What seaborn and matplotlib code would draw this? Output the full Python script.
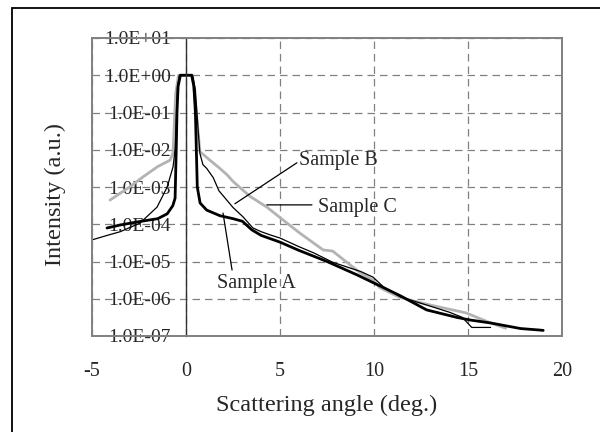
import numpy as np
import pandas as pd
import seaborn as sns
import matplotlib.pyplot as plt
from matplotlib.patches import Rectangle

# --- datos (intensidad en potencias de 10) ---
angle_a = [-4.2, -3.5, -2.5, -1.5, -1.0, -0.7, -0.58, -0.52, -0.48, -0.42, -0.3, 0.0, 0.3,
           0.42, 0.5, 0.55, 0.6, 0.75, 1.1, 1.8, 2.5, 3.0, 3.5, 4.0, 5.0, 6.0, 7.5, 9.1,
           10.5, 11.4, 12.8, 14.4, 15.1, 16.2, 17.8, 18.8, 19.0]
log_a = [-4.1, -4.02, -3.93, -3.85, -3.72, -3.5, -3.3, -2.0, -1.0, -0.3, 0.0, 0.0, 0.0,
         -0.3, -1.0, -2.0, -3.0, -3.43, -3.62, -3.77, -3.85, -3.92, -4.15, -4.3, -4.48,
         -4.7, -5.0, -5.36, -5.7, -5.92, -6.3, -6.5, -6.57, -6.65, -6.8, -6.84, -6.85]

angle_b = [-5.0, -4.2, -3.5, -2.45, -1.54, -1.0, -0.69, -0.58, -0.5, -0.45, -0.35, 0.0, 0.35,
           0.5, 0.65, 0.74, 0.9, 1.1, 1.45, 1.75, 2.5, 3.03, 3.56, 4.0, 4.5, 5.0, 6.0, 6.8,
           7.8, 9.3, 9.95, 10.5, 11.4, 13.0, 14.0, 14.7, 15.2, 16.2]
log_b = [-4.42, -4.3, -4.2, -3.97, -3.54, -3.0, -2.46, -2.0, -1.0, -0.3, 0.0, 0.0, 0.0,
         -0.4, -1.5, -2.1, -2.4, -2.5, -2.75, -3.1, -3.55, -3.8, -4.1, -4.2, -4.29, -4.37,
         -4.6, -4.77, -5.02, -5.27, -5.42, -5.68, -5.95, -6.2, -6.36, -6.5, -6.77, -6.77]

angle_c = [-4.04, -3.0, -2.29, -1.5, -0.85, -0.69, -0.55, -0.4, 0.0, 0.35, 0.55, 0.74, 1.2,
           1.8, 2.2, 2.5, 3.4, 4.3, 5.2, 6.06, 7.3, 7.8, 8.5, 9.26, 9.95, 10.3, 11.4, 13.0,
           14.9, 16.2, 17.0]
log_c = [-3.35, -3.0, -2.73, -2.45, -2.28, -2.09, -0.5, 0.0, 0.0, 0.0, -1.0, -2.05, -2.25,
         -2.5, -2.68, -2.85, -3.25, -3.54, -3.9, -4.24, -4.69, -4.72, -5.0, -5.3, -5.5,
         -5.7, -5.97, -6.17, -6.38, -6.65, -6.79]

y_ticks = [1e-7, 1e-6, 1e-5, 1e-4, 1e-3, 1e-2, 1e-1, 1e0, 1e1]
y_tick_labels = ['1.0E-07', '1.0E-06', '1.0E-05', '1.0E-04', '1.0E-03',
                 '1.0E-02', '1.0E-01', '1.0E+00', '1.0E+01']
x_ticks = [-5, 0, 5, 10, 15, 20]

sns.set_style('white')
plt.rcParams['font.family'] = ['Liberation Serif', 'DejaVu Serif']
plt.rcParams['axes.unicode_minus'] = False

fig = plt.figure(figsize=(6, 4.32), dpi=100)
ax = fig.add_axes([92 / 600, 1 - 336 / 432, 470 / 600, 298 / 432])

# marco exterior del grafico
fig.patches.append(Rectangle((12 / 600, -0.05), 1.2, 1 - 8 / 432 + 0.05,
                             transform=fig.transFigure, fill=False,
                             edgecolor='black', lw=1.3))

df_c = pd.DataFrame({'angle': angle_c, 'intensity': 10.0 ** np.array(log_c)})
df_b = pd.DataFrame({'angle': angle_b, 'intensity': 10.0 ** np.array(log_b)})
df_a = pd.DataFrame({'angle': angle_a, 'intensity': 10.0 ** np.array(log_a)})

sns.lineplot(data=df_c, x='angle', y='intensity', sort=False, color='#b3b3b3', lw=2.0, ax=ax)
sns.lineplot(data=df_b, x='angle', y='intensity', sort=False, color='black', lw=0.9, ax=ax)
sns.lineplot(data=df_a, x='angle', y='intensity', sort=False, color='black', lw=2.0, ax=ax)

ax.set_yscale('log')
ax.set_xlim(-5, 20)
ax.set_ylim(1e-7, 1e1)
ax.set_xticks(x_ticks)
ax.set_yticks(y_ticks)
ax.set_yticklabels(y_tick_labels)
ax.minorticks_off()

ax.grid(True, which='major', ls=(0, (6, 4)), color='#808080', lw=0.9)
ax.set_axisbelow(True)

# eje y en x = 0
ax.spines['left'].set_position(('data', 0))
ax.spines['left'].set_color('#333333')
ax.spines['left'].set_linewidth(1.0)
for side in ['top', 'right', 'bottom']:
    ax.spines[side].set_color('#808080')
    ax.spines[side].set_linewidth(1.4)
ax.axvline(-5, color='#808080', lw=1.4, clip_on=False)

ax.tick_params(axis='y', length=0, pad=11, labelsize=14)
ax.tick_params(axis='x', length=0, pad=19, labelsize=14.5)

ax.set_xlabel('Scattering angle (deg.)', fontsize=17.5, labelpad=10)
ax.set_ylabel('')
fig.text(55 / 600, 1 - 195 / 432, 'Intensity (a.u.)', rotation=90, fontsize=17.5,
         ha='center', va='center')

# etiquetas de las muestras
line_kw = dict(arrowstyle='-', color='black', lw=0.9, shrinkA=0, shrinkB=0)
ax.text(3.72, 10 ** -5.58, 'Sample A', fontsize=14.5, ha='center', va='center')
ax.annotate('', xy=(1.97, 10 ** -3.7), xytext=(2.45, 10 ** -5.23), arrowprops=line_kw)
ax.text(7.02, 10 ** -3.56, 'Sample C', fontsize=14.5, ha='left', va='center')
ax.annotate('', xy=(4.3, 10 ** -3.48), xytext=(6.7, 10 ** -3.48), arrowprops=line_kw)
ax.text(6.0, 10 ** -2.3, 'Sample B', fontsize=14.5, ha='left', va='center')
ax.annotate('', xy=(2.6, 10 ** -3.45), xytext=(5.9, 10 ** -2.35), arrowprops=line_kw)

fig.savefig('out.png', dpi=100)
